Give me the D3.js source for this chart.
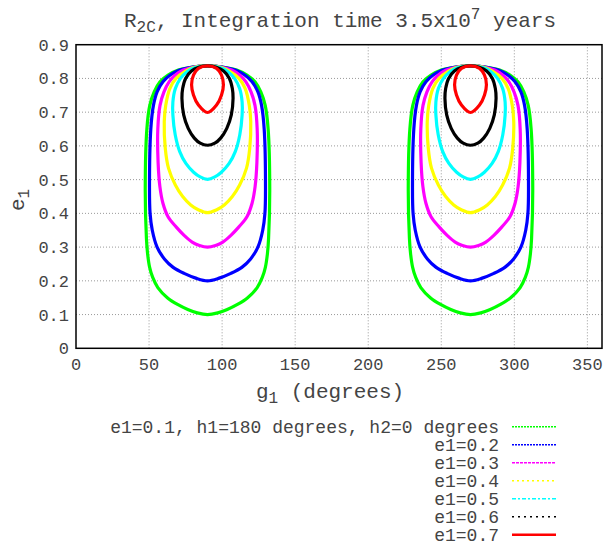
<!DOCTYPE html>
<html>
<head>
<meta charset="UTF-8">
<style>
  body { margin: 0; background: #fff; }
  text { font-family: "Liberation Mono", "Courier New", monospace; fill: #444; }
  .grid line { stroke: #999; stroke-dasharray: 1,2; }
</style>
<script src="https://cdn.jsdelivr.net/npm/d3@7"></script>
</head>
<body>
<svg id="chart"></svg>
<script>

// lobe centres (g1, degrees)
var centers = [90, 270];

var xTicks = [0, 50, 100, 150, 200, 250, 300, 350];
var yTicks = [0, 0.1, 0.2, 0.3, 0.4, 0.5, 0.6, 0.7, 0.8, 0.9];

var names = ['e1=0.1, h1=180 degrees, h2=0 degrees', 'e1=0.2', 'e1=0.3', 'e1=0.4', 'e1=0.5', 'e1=0.6', 'e1=0.7'];

// half-width profile of each contour: [e1, half width in degrees], top to bottom
var green = [[0.837,0],[0.834,10],[0.825,20],[0.810,27],[0.790,32.5],[0.760,36.5],[0.720,39.5],[0.650,41.5],[0.474,42.6],[0.326,41.8],[0.280,41],[0.240,39.6],[0.210,37.5],[0.180,34],[0.150,27.5],[0.130,20.5],[0.115,13.5],[0.105,7],[0.100,0]];
var blue = [[0.837,0],[0.834,10],[0.825,19],[0.810,25.5],[0.790,30.5],[0.760,34.5],[0.720,37],[0.650,38.8],[0.474,39.7],[0.400,39.3],[0.350,37.8],[0.300,34.5],[0.265,29.5],[0.240,23.5],[0.222,16],[0.208,8],[0.200,0]];
var magenta = [[0.837,0],[0.834,9],[0.825,16.5],[0.810,22],[0.790,26.3],[0.760,29.8],[0.720,32.5],[0.650,34],[0.550,33.8],[0.480,32.6],[0.430,30.5],[0.390,27],[0.360,21.5],[0.335,16],[0.315,10.5],[0.305,5.5],[0.300,0]];
var yellow = [[0.837,0],[0.833,9],[0.822,15],[0.800,21.5],[0.770,25.8],[0.720,28.6],[0.672,29.6],[0.593,28.9],[0.534,26.7],[0.484,22],[0.450,17],[0.425,11.5],[0.410,6],[0.402,0]];
var cyan = [[0.837,0],[0.832,8.5],[0.820,14],[0.800,18.5],[0.770,22],[0.730,23.7],[0.692,23.7],[0.633,22.1],[0.583,19],[0.548,14.8],[0.522,9.5],[0.508,5],[0.501,0]];
var black = [[0.837,0],[0.833,6],[0.822,11],[0.800,15],[0.770,17],[0.741,17.5],[0.692,16.3],[0.652,13.2],[0.623,9],[0.608,5],[0.602,0]];
var red = [[0.837,0],[0.830,6.2],[0.810,9.6],[0.781,10.9],[0.751,9.6],[0.721,6.2],[0.699,0]];

var profiles = [green, blue, magenta, yellow, cyan, black, red];
var colors = ['#00ff00', '#0000ff', '#ff00ff', '#ffff00', '#00ffff', '#000000', '#ff0000'];
var dashes = ['2,1', '2,1', '3,1', '2,3', '4,2,2,2', '2,4', null];

var width = 614, height = 547;
var margin = {top: 44.7, right: 12, bottom: 198.7, left: 76};

var svg = d3.select('#chart')
  .attr('width', width)
  .attr('height', height);

var x = d3.scaleLinear().domain([0, 360]).range([margin.left, width - margin.right]);
var y = d3.scaleLinear().domain([0, 0.9]).range([height - margin.bottom, margin.top]);

// grid
var grid = svg.append('g').attr('class', 'grid');
grid.selectAll('.gx')
  .data(xTicks.filter(function(d) { return d > 0; }))
  .enter().append('line')
  .attr('x1', function(d) { return x(d); })
  .attr('x2', function(d) { return x(d); })
  .attr('y1', y(0))
  .attr('y2', y(0.9));
grid.selectAll('.gy')
  .data(yTicks.filter(function(d) { return d > 0 && d < 0.9; }))
  .enter().append('line')
  .attr('x1', x(0))
  .attr('x2', x(360))
  .attr('y1', function(d) { return y(d); })
  .attr('y2', function(d) { return y(d); });

// tick labels
svg.append('g').selectAll('text')
  .data(xTicks)
  .enter().append('text')
  .attr('x', function(d) { return x(d); })
  .attr('y', 370)
  .attr('text-anchor', 'middle')
  .style('font-size', '17px')
  .text(function(d) { return d; });

svg.append('g').selectAll('text')
  .data(yTicks)
  .enter().append('text')
  .attr('x', 69)
  .attr('y', function(d) { return y(d); })
  .attr('dy', '0.35em')
  .attr('text-anchor', 'end')
  .style('font-size', '17px')
  .text(function(d) { return d === 0 ? '0' : d3.format('.1f')(d); });

// contours
var line = d3.line()
  .x(function(d) { return x(d[0]); })
  .y(function(d) { return y(d[1]); })
  .curve(d3.curveCatmullRomClosed.alpha(0.5));

function ring(profile, c) {
  var right = profile.map(function(p) { return [c + p[1], p[0]]; });
  var left = profile.slice(1, -1).reverse().map(function(p) { return [c - p[1], p[0]]; });
  return right.concat(left);
}

var curves = svg.append('g');
profiles.forEach(function(profile, i) {
  centers.forEach(function(c) {
    curves.append('path')
      .attr('d', line(ring(profile, c)))
      .attr('fill', 'none')
      .attr('stroke', colors[i])
      .attr('stroke-width', 3.2);
  });
});

// border
svg.append('rect')
  .attr('x', x(0))
  .attr('y', y(0.9))
  .attr('width', x(360) - x(0))
  .attr('height', y(0) - y(0.9))
  .attr('fill', 'none')
  .attr('stroke', '#000')
  .attr('stroke-width', 1.5);

// title
var title = svg.append('text')
  .attr('x', 340)
  .attr('y', 27)
  .attr('text-anchor', 'middle')
  .style('font-size', '21px');
title.append('tspan').text('R');
title.append('tspan').attr('dy', 5).style('font-size', '16px').text('2C');
title.append('tspan').attr('dy', -5).text(', Integration time 3.5x10');
title.append('tspan').attr('dy', -8).style('font-size', '16px').text('7');
title.append('tspan').attr('dy', 8).text(' years');

// axis labels
var xl = svg.append('text')
  .attr('x', 330)
  .attr('y', 398)
  .attr('text-anchor', 'middle')
  .style('font-size', '21px');
xl.append('tspan').text('g');
xl.append('tspan').attr('dy', 5).style('font-size', '16px').text('1');
xl.append('tspan').attr('dy', -5).text('  (degrees)');

var yl = svg.append('text')
  .attr('transform', 'translate(24,200) rotate(-90)')
  .attr('text-anchor', 'middle')
  .style('font-size', '21px');
yl.append('tspan').text('e');
yl.append('tspan').attr('dy', 5).style('font-size', '16px').text('1');

// legend
var legend = svg.append('g').selectAll('g')
  .data(names)
  .enter().append('g')
  .attr('transform', function(d, i) { return 'translate(0,' + (426.7 + i * 18) + ')'; });

legend.append('text')
  .attr('x', 499)
  .attr('dy', '0.35em')
  .attr('text-anchor', 'end')
  .style('font-size', '18px')
  .text(function(d) { return d; });

legend.append('line')
  .attr('x1', 512)
  .attr('x2', 556)
  .attr('stroke', function(d, i) { return colors[i]; })
  .attr('stroke-width', function(d, i) { return dashes[i] ? 1.5 : 2.5; })
  .attr('stroke-dasharray', function(d, i) { return dashes[i]; });

</script>
</body>
</html>
